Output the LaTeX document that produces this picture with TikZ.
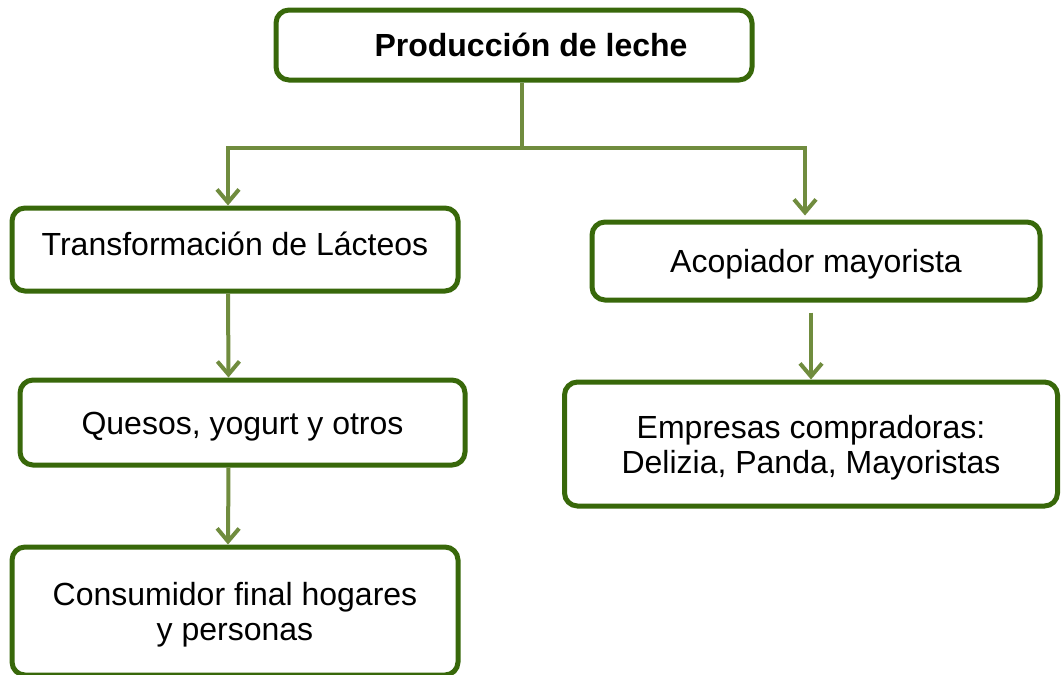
\documentclass[tikz,border=0pt]{standalone}
\usepackage{fontspec}
\setmainfont{Liberation Sans}
\usetikzlibrary{arrows.meta}
\definecolor{boxgreen}{RGB}{56,104,10}
\definecolor{linegreen}{RGB}{112,140,62}
\begin{document}
\begin{tikzpicture}[x=1pt,y=-1pt,
    box/.style = {draw=boxgreen, line width=5pt, rounded corners=13pt,
      fill=white, align=center, inner sep=0pt,
      text height=23pt, text depth=0pt,
      font=\fontsize{32}{35}\selectfont},
    twolines/.style = {text height=58pt},
    stem/.style = {draw=linegreen, line width=4pt},
    flow/.style = {stem, -{Straight Barb[length=13pt,width=22pt]}}]
\useasboundingbox (0,0) rectangle (1061,675);
\node[box, minimum width=476pt, minimum height=70pt] (prod) at (514,45)
  {\hspace*{34pt}\textbf{Producción de leche}};
\node[box, minimum width=446pt, minimum height=83pt, text depth=12pt] (trans) at (235,249.5)
  {Transformación de Lácteos};
\node[box, minimum width=448pt, minimum height=78pt] (acop) at (816,261)
  {Acopiador mayorista};
\node[box, minimum width=445pt, minimum height=85pt] (ques) at (242.5,422.5)
  {Quesos, yogurt y otros};
\node[box, twolines, minimum width=446pt, minimum height=128pt] (cons) at (235,611)
  {Consumidor final hogares\\y personas};
\node[box, twolines, minimum width=493pt, minimum height=124pt] (emp) at (811,444)
  {Empresas compradoras:\\Delizia, Panda, Mayoristas};
\coordinate (fork) at (522,148);
\draw[stem] (fork |- prod.south) -- (fork);
\draw[flow] (fork) -| ([xshift=-7pt]trans.north);
\draw[flow] (fork) -| ([xshift=-11pt,yshift=4pt]acop.north);
\draw[flow] ([xshift=-7pt]trans.south) -- ([xshift=-14pt]ques.north);
\draw[flow] ([xshift=-14pt]ques.south) -- ([xshift=-7pt]cons.north);
\draw[flow] ([xshift=-5pt,yshift=-10pt]acop.south) -- (emp.north);
\end{tikzpicture}
\end{document}
